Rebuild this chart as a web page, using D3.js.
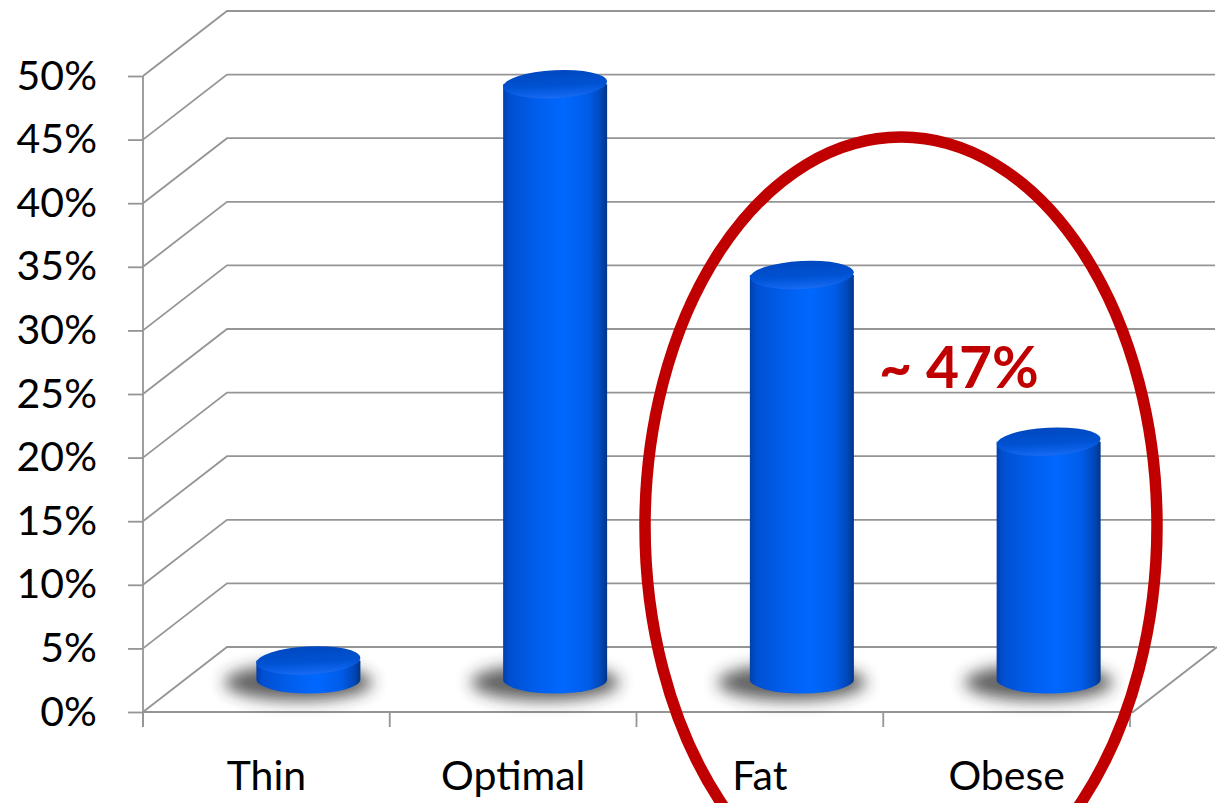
<!DOCTYPE html>
<html>
<head>
<meta charset="utf-8">
<script src="https://cdn.jsdelivr.net/npm/d3@7"></script>
<style>
  html, body { margin: 0; padding: 0; background: #ffffff; }
  svg { display: block; }
</style>
</head>
<body>
<script>
// ---- data ----
const categories = ["Thin", "Optimal", "Fat", "Obese"];
const values = [1.5, 46.8, 31.8, 18.7];
const yTicks = [0, 5, 10, 15, 20, 25, 30, 35, 40, 45, 50];
const annotation = "~ 47%";

// ---- layout ----
const W = 1217, H = 803;
const x0 = 143, x1 = 1130;
const depthX = 84, depthY = -65;

const svg = d3.select("body").append("svg").attr("width", W).attr("height", H);
const defs = svg.append("defs");

const y = d3.scaleLinear().domain([0, 50]).range([712, 76]);
const x = d3.scaleBand().domain(categories).range([x0, x1]).padding(0);

// gradients
const sideGrad = defs.append("linearGradient").attr("id", "side").attr("x1", 0).attr("x2", 1).attr("y1", 0).attr("y2", 0);
[[0, "#003fae"], [0.06, "#004fd0"], [0.3, "#005deb"], [0.58, "#0068ff"], [0.82, "#005ce8"], [0.94, "#0047b8"], [1, "#003586"]]
  .forEach(([o, c]) => sideGrad.append("stop").attr("offset", o).attr("stop-color", c));
const topGrad = defs.append("linearGradient").attr("id", "topg").attr("x1", 0).attr("x2", 0).attr("y1", 0).attr("y2", 1);
[[0, "#0048c0"], [0.55, "#0052d2"], [0.8, "#0a5fe6"], [1, "#1a6cf2"]]
  .forEach(([o, c]) => topGrad.append("stop").attr("offset", o).attr("stop-color", c));
defs.append("filter").attr("id", "blur").attr("x", "-50%").attr("y", "-100%").attr("width", "200%").attr("height", "300%")
  .append("feGaussianBlur").attr("stdDeviation", 8);

const gridColor = "#959595";

// back wall gridlines
svg.append("g").selectAll("path").data(yTicks).join("path")
  .attr("d", d => `M${x0},${y(d)} L${x0 + depthX},${y(d) + depthY} L${W - 2},${y(d) + depthY}`)
  .attr("fill", "none").attr("stroke", gridColor).attr("stroke-width", 1.8);

// floor front & right edges
svg.append("path")
  .attr("d", `M${x0},${y(0)} L${x1 + 3},${y(0)} L${x1 + 3 + depthX},${y(0) + depthY}`)
  .attr("fill", "none").attr("stroke", gridColor).attr("stroke-width", 1.8);

// y axis
const yAxis = svg.append("g").attr("transform", `translate(${x0},0)`)
  .call(d3.axisLeft(y).tickValues(yTicks).tickFormat(d => d + "%").tickSize(15).tickPadding(31));
yAxis.select(".domain").attr("stroke", gridColor).attr("stroke-width", 1.8).attr("d", `M0,${y(50)}V${y(0) + 15}`);
yAxis.selectAll(".tick line").attr("stroke", gridColor).attr("stroke-width", 1.8);
yAxis.selectAll(".tick text").attr("fill", "#000").style("font-family", "Lato, 'Open Sans', sans-serif").style("font-size", "41px");

// x axis ticks
const xTickPos = categories.map(c => x(c)).concat([x1]);
svg.append("g").selectAll("line").data(xTickPos).join("line")
  .attr("x1", d => d).attr("x2", d => d).attr("y1", y(0)).attr("y2", y(0) + 15)
  .attr("stroke", gridColor).attr("stroke-width", 1.8);

// x labels
svg.append("g").selectAll("text").data(categories).join("text")
  .attr("x", d => x(d) + x.bandwidth() / 2).attr("y", 790)
  .attr("text-anchor", "middle")
  .style("font-family", "Lato, 'Open Sans', sans-serif").style("font-size", "41px").attr("fill", "#000")
  .text(d => d);

// cylinders
const rx = 52, ry = 14;
const mid = i => x(categories[i]) + x.bandwidth() / 2 + depthX / 2;
const base = y(0) + depthY / 2;
const valY = v => y(v) + depthY / 2;

const cyl = svg.append("g").selectAll("g").data(values).join("g");
// shadows
cyl.append("ellipse")
  .attr("cx", (d, i) => mid(i) - 10).attr("cy", base + 3)
  .attr("rx", rx + 22).attr("ry", ry + 4)
  .attr("fill", "#2a2a2a").attr("opacity", 0.75).attr("filter", "url(#blur)");
// body
cyl.append("path")
  .attr("d", (d, i) => {
    const cx = mid(i), yt = valY(d);
    return `M${cx - rx},${yt} L${cx - rx},${base} A${rx},${ry} 0 0 0 ${cx + rx},${base} L${cx + rx},${yt} Z`;
  })
  .attr("fill", "url(#side)");
// top
cyl.append("ellipse")
  .attr("cx", (d, i) => mid(i)).attr("cy", d => valY(d))
  .attr("rx", rx).attr("ry", ry)
  .attr("transform", (d, i) => `rotate(-3, ${mid(i)}, ${valY(d)})`)
  .attr("fill", "url(#topg)");

// red ellipse annotation
svg.append("ellipse")
  .attr("cx", 901).attr("cy", 526).attr("rx", 256).attr("ry", 389)
  .attr("fill", "none").attr("stroke", "#C00000").attr("stroke-width", 11.5);

svg.append("text")
  .attr("x", 879).attr("y", 388)
  .style("font-family", "Lato, 'Open Sans', sans-serif").style("font-size", "57px").style("font-weight", "bold")
  .attr("fill", "#C00000")
  .text(annotation);
</script>
</body>
</html>
